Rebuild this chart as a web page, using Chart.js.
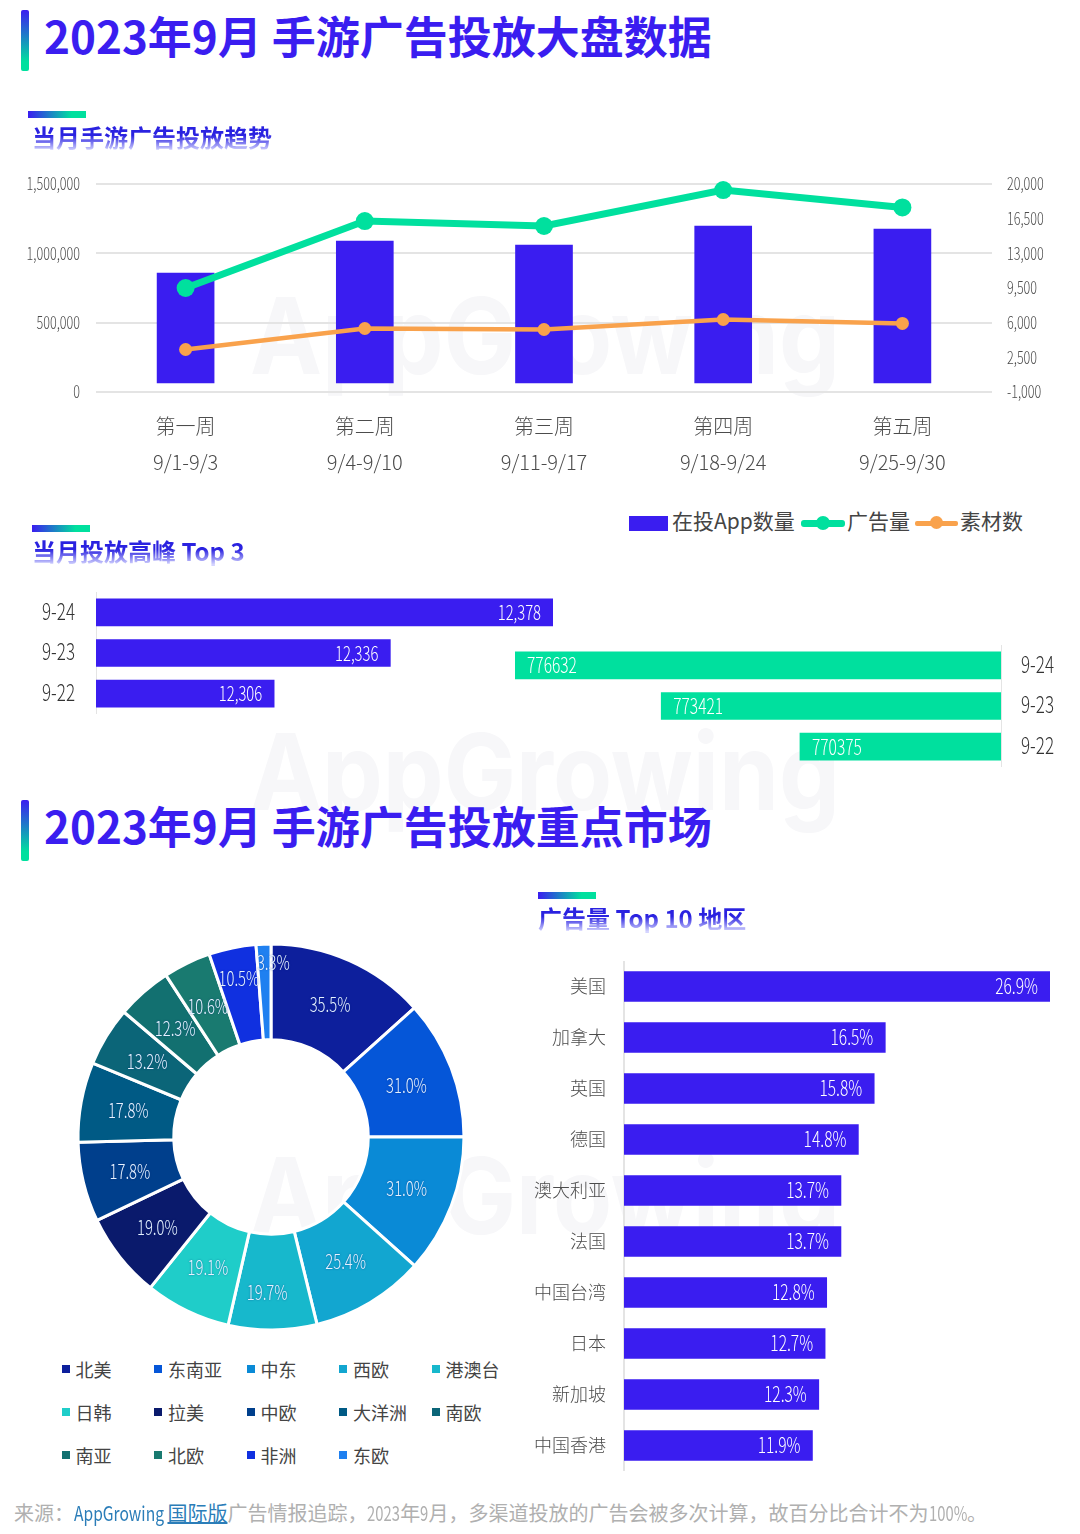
<!DOCTYPE html>
<html lang="zh">
<head>
<meta charset="utf-8">
<title>2023年9月 手游广告投放</title>
<script src="https://cdn.jsdelivr.net/npm/chart.js@4/dist/chart.umd.min.js"></script>
<style>
  body { margin: 0; background: #fff; width: 1080px; height: 1534px; position: relative; overflow: hidden; font-family: "Noto Sans CJK SC", sans-serif; }
  canvas { position: absolute; }
  .mark { position: absolute; left: 250px; font: 700 106px Inter, sans-serif; color: #f7f7f9; line-height: 106px; white-space: pre; transform: scaleX(0.91); transform-origin: left; }
  .title-bar { position: absolute; left: 21px; width: 8px; height: 61px; border-radius: 2px; background: linear-gradient(to bottom, #3a1df0, #00e09e 85%); }
  .title { position: absolute; left: 44px; font-size: 44px; font-weight: 700; line-height: 56px; color: #3a1df0; white-space: pre; }
  .sub-bar { position: absolute; width: 58px; height: 7px; background: linear-gradient(to right, #3a1df0, #00e09e 75%); }
  .sub { position: absolute; font-size: 24px; font-weight: 700; line-height: 32px; white-space: pre; background: linear-gradient(to bottom, #2a22e0 45%, #d4d4ff 92%); -webkit-background-clip: text; background-clip: text; color: transparent; }
  .top-legend span { position: absolute; font-size: 21px; line-height: 28px; top: 506px; color: #444; }
  .top-legend i { position: absolute; display: block; }
  #regionLegend div { position: absolute; font-size: 18px; line-height: 24px; color: #444; }
  #regionLegend i { position: absolute; left: -14px; top: 8px; width: 8px; height: 8px; }
  .source { position: absolute; left: 14px; top: 1499px; font-size: 20px; line-height: 28px; color: #b0b0b0; white-space: pre; }
  .source u { color: #2b7db8; }
  .nr { display: inline-block; transform-origin: left; }
</style>
</head>
<body>
<div class="mark" style="top:283px">AppGrowing</div>
<div class="mark" style="top:719px">AppGrowing</div>
<div class="mark" style="top:1143px">AppGrowing</div>

<div class="title-bar" style="top:10px"></div>
<div class="title" style="top:7px">2023年9月 手游广告投放大盘数据</div>
<div class="sub-bar" style="left:28px;top:111px"></div>
<div class="sub" style="left:32px;top:121px">当月手游广告投放趋势</div>
<div class="sub-bar" style="left:32px;top:525px"></div>
<div class="sub" style="left:32px;top:535px">当月投放高峰 Top 3</div>
<div class="title-bar" style="top:800px"></div>
<div class="title" style="top:797px">2023年9月 手游广告投放重点市场</div>
<div class="sub-bar" style="left:538px;top:892px"></div>
<div class="sub" style="left:538px;top:902px">广告量 Top 10 地区</div>

<canvas id="trendChart" width="1080" height="320" style="left:0;top:170px"></canvas>
<div class="top-legend">
  <i style="left:629px;top:516px;width:39px;height:15px;background:#3a1df0"></i><span style="left:672px">在投App数量</span>
  <i style="left:801px;top:520px;width:44px;height:7px;border-radius:3px;background:#00e09e"></i><i style="left:816px;top:516px;width:14px;height:14px;border-radius:50%;background:#00e09e"></i><span style="left:847px">广告量</span>
  <i style="left:915px;top:521px;width:43px;height:5px;border-radius:2px;background:#f9a24c"></i><i style="left:930px;top:516px;width:13px;height:13px;border-radius:50%;background:#f9a24c"></i><span style="left:960px">素材数</span>
</div>
<canvas id="peakAppChart" width="553" height="122" style="left:0;top:592px"></canvas>
<canvas id="peakAdChart" width="565" height="122" style="left:515px;top:645px"></canvas>
<canvas id="regionChart" width="422" height="422" style="left:60px;top:926px"></canvas>
<div id="regionLegend"></div>
<canvas id="countryChart" width="530" height="510" style="left:520px;top:961px"></canvas>
<div class="source">来源：<u><span class="nr" data-ratio="0.78">AppGrowing </span>国际版</u>广告情报追踪，<span class="nr">2023</span>年<span class="nr">9</span>月，多渠道投放的广告会被多次计算，故百分比合计不为<span class="nr">100%</span>。</div>

<script>
const weeks = [['第一周', '9/1-9/3'], ['第二周', '9/4-9/10'], ['第三周', '9/11-9/17'], ['第四周', '9/18-9/24'], ['第五周', '9/25-9/30']];
const appCounts = [858000, 1089000, 1060000, 1197000, 1175000];
const adCounts = [9500, 16260, 15760, 19390, 17630];
const creativeCounts = [3290, 5410, 5310, 6320, 5920];

const peakDays = ['9-24', '9-23', '9-22'];
const peakApps = [12378, 12336, 12306];
const peakAds = [776632, 773421, 770375];

const regions = ['北美', '东南亚', '中东', '西欧', '港澳台', '日韩', '拉美', '中欧', '大洋洲', '南欧', '南亚', '北欧', '非洲', '东欧'];
const regionShares = [35.5, 31.0, 31.0, 25.4, 19.7, 19.1, 19.0, 17.8, 17.8, 13.2, 12.3, 10.6, 10.5, 3.3];
const regionColors = ['#0d1f9c', '#0556d8', '#0a8ad6', '#12a6d0', '#17b8cc', '#1fcdc9', '#0a1a6c', '#003f8c', '#005a85', '#0b6578', '#127070', '#197a70', '#1030e0', '#1f80f0'];

const countries = ['美国', '加拿大', '英国', '德国', '澳大利亚', '法国', '中国台湾', '日本', '新加坡', '中国香港'];
const countryShares = [26.9, 16.5, 15.8, 14.8, 13.7, 13.7, 12.8, 12.7, 12.3, 11.9];

const fontFamily = '"Noto Sans CJK SC", sans-serif';
const blue = '#3a1df0';
const green = '#00e09e';
const orange = '#f9a24c';
const grey = '#e4e4e4';
const textColor = '#4c4c4c';
const narrowRatio = 0.74;

// no condensed font is installed, so plain number labels get squeezed when drawn
function squeezeNumbers(canvas) {
  const ctx = canvas.getContext('2d');
  const fillText = ctx.fillText.bind(ctx);
  ctx.fillText = (text, x, y) => {
    if (!/^[\d,.%-]+$/.test(text)) return fillText(text, x, y);
    ctx.save();
    ctx.translate(x, y);
    ctx.scale(narrowRatio, 1);
    fillText(text, 0, 0);
    ctx.restore();
  };
  return canvas;
}

// same for the numbers in the footer
document.querySelectorAll('.nr').forEach(el => {
  const w = el.getBoundingClientRect().width;
  const ratio = Number(el.dataset.ratio || narrowRatio);
  el.style.transform = `scaleX(${ratio})`;
  el.style.marginRight = -w * (1 - ratio) + 'px';
});

// keeps the plot area where it should be, labels must not push it around
function fixedWidth(width) {
  return scale => {
    scale.width = width;
    scale.paddingTop = 0;
    scale.paddingBottom = 0;
  };
}

// writes the value inside each bar, since only core Chart.js is available
const barLabels = {
  id: 'barLabels',
  afterDatasetsDraw(chart, args, opts) {
    const ctx = chart.ctx;
    const data = chart.data.datasets[0].data;
    ctx.save();
    ctx.font = `300 ${opts.size}px ${fontFamily}`;
    ctx.fillStyle = '#fff';
    ctx.textBaseline = 'middle';
    ctx.textAlign = opts.align;
    chart.getDatasetMeta(0).data.forEach((bar, i) => {
      ctx.fillText(opts.format(data[i]), bar.x + opts.offset, bar.y);
    });
    ctx.restore();
  }
};

// percent labels on the doughnut, a few were moved off their slice in the original
const ringShift = { 4: [-5, 10], 12: [-3, -16], 13: [8, -30] };
const ringLabels = {
  id: 'ringLabels',
  afterDatasetsDraw(chart) {
    const ctx = chart.ctx;
    ctx.save();
    ctx.font = '300 20px ' + fontFamily;
    ctx.fillStyle = '#e6f2ff';
    ctx.textAlign = 'center';
    ctx.textBaseline = 'middle';
    ctx.shadowColor = 'rgba(10,40,120,0.55)';
    ctx.shadowBlur = 2;
    chart.getDatasetMeta(0).data.forEach((arc, i) => {
      const mid = (arc.startAngle + arc.endAngle) / 2;
      const r = (arc.innerRadius + arc.outerRadius) / 2;
      const [dx, dy] = ringShift[i] || [0, 0];
      ctx.fillText(regionShares[i].toFixed(1) + '%', arc.x + Math.cos(mid) * r + dx, arc.y + Math.sin(mid) * r + dy);
    });
    ctx.restore();
  }
};

new Chart(squeezeNumbers(document.getElementById('trendChart')), {
  type: 'bar',
  data: {
    labels: weeks,
    datasets: [
      { type: 'line', label: '广告量', data: adCounts, yAxisID: 'y1', borderColor: green, backgroundColor: green, borderWidth: 7, pointRadius: 9, pointBackgroundColor: green, pointBorderWidth: 0, tension: 0, clip: false, order: 1 },
      { type: 'line', label: '素材数', data: creativeCounts, yAxisID: 'y1', borderColor: orange, backgroundColor: orange, borderWidth: 4.5, pointRadius: 6.5, pointBackgroundColor: orange, pointBorderWidth: 0, tension: 0, clip: false, order: 2 },
      { label: '在投App数量', data: appCounts, yAxisID: 'y', backgroundColor: blue, barThickness: 57, base: 65000, order: 3 }
    ]
  },
  options: {
    responsive: false,
    animation: false,
    layout: { padding: { top: 14 } },
    plugins: { legend: { display: false }, tooltip: { enabled: false } },
    scales: {
      x: {
        grid: { display: false },
        border: { display: false },
        ticks: { color: textColor, padding: 8, maxRotation: 0, font: { family: fontFamily, size: 20, weight: '300', lineHeight: 1.8 } },
        afterFit(scale) { scale.height = 98; scale.paddingLeft = 0; scale.paddingRight = 0; }
      },
      y: {
        min: 0, max: 1500000,
        grid: { color: grey, lineWidth: 2, drawTicks: false },
        border: { display: false },
        ticks: { stepSize: 500000, color: textColor, padding: 16, font: { family: fontFamily, size: 17, weight: '300' }, callback: v => v.toLocaleString('en-US') },
        afterFit: fixedWidth(96)
      },
      y1: {
        position: 'right',
        min: -1000, max: 20000,
        grid: { display: false, drawTicks: false },
        border: { display: false },
        ticks: { stepSize: 3500, color: textColor, padding: 15, font: { family: fontFamily, size: 17, weight: '300' }, callback: v => v.toLocaleString('en-US') },
        afterFit: fixedWidth(88)
      }
    }
  }
});

new Chart(squeezeNumbers(document.getElementById('peakAppChart')), {
  type: 'bar',
  data: { labels: peakDays, datasets: [{ data: peakApps, backgroundColor: blue, barThickness: 27 }] },
  options: {
    indexAxis: 'y',
    responsive: false,
    animation: false,
    plugins: {
      legend: { display: false },
      tooltip: { enabled: false },
      barLabels: { align: 'right', offset: -12, size: 20, format: v => v.toLocaleString('en-US') }
    },
    scales: {
      x: { display: false, min: 12260, max: 12378 },
      y: {
        grid: { display: false, drawTicks: false },
        border: { color: grey },
        ticks: { color: '#333', padding: 21, labelOffset: -1.5, font: { family: fontFamily, size: 23, weight: '300' } },
        afterFit: fixedWidth(96)
      }
    }
  },
  plugins: [barLabels]
});

new Chart(squeezeNumbers(document.getElementById('peakAdChart')), {
  type: 'bar',
  data: { labels: peakDays, datasets: [{ data: peakAds, backgroundColor: green, barThickness: 27 }] },
  options: {
    indexAxis: 'y',
    responsive: false,
    animation: false,
    plugins: {
      legend: { display: false },
      tooltip: { enabled: false },
      barLabels: { align: 'left', offset: 12, size: 21, format: v => String(v) }
    },
    scales: {
      x: { display: false, reverse: true, min: 765960, max: 776632 },
      y: {
        position: 'right',
        grid: { display: false, drawTicks: false },
        border: { color: grey },
        ticks: { color: '#333', padding: 20, labelOffset: -1.5, font: { family: fontFamily, size: 23, weight: '300' } },
        afterFit: fixedWidth(79)
      }
    }
  },
  plugins: [barLabels]
});

new Chart(squeezeNumbers(document.getElementById('regionChart')), {
  type: 'doughnut',
  data: { labels: regions, datasets: [{ data: regionShares, backgroundColor: regionColors, borderColor: '#fff', borderWidth: 3 }] },
  options: {
    responsive: false,
    animation: false,
    radius: 193,
    cutout: '50.4%',
    plugins: { legend: { display: false }, tooltip: { enabled: false } }
  },
  plugins: [ringLabels]
});

// region legend sits in a fixed 5 column grid, the built in one wraps by text width
const legendBox = document.getElementById('regionLegend');
regions.forEach((name, i) => {
  const item = document.createElement('div');
  item.style.left = (75.5 + (i % 5) * 92.5) + 'px';
  item.style.top = (1357 + Math.floor(i / 5) * 43) + 'px';
  item.innerHTML = `<i style="background:${regionColors[i]}"></i>${name}`;
  legendBox.appendChild(item);
});

new Chart(squeezeNumbers(document.getElementById('countryChart')), {
  type: 'bar',
  data: { labels: countries, datasets: [{ data: countryShares, backgroundColor: blue, barThickness: 30 }] },
  options: {
    indexAxis: 'y',
    responsive: false,
    animation: false,
    plugins: {
      legend: { display: false },
      tooltip: { enabled: false },
      barLabels: { align: 'right', offset: -12, size: 21, format: v => v.toFixed(1) + '%' }
    },
    scales: {
      x: { display: false, min: 0, max: 26.9 },
      y: {
        grid: { display: false, drawTicks: false },
        border: { color: grey, width: 2 },
        ticks: { color: textColor, padding: 18, font: { family: fontFamily, size: 18, weight: '300' } },
        afterFit: fixedWidth(104)
      }
    }
  },
  plugins: [barLabels]
});
</script>
</body>
</html>
